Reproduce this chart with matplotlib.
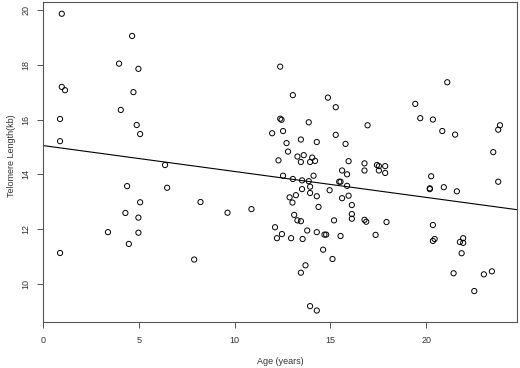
import matplotlib
matplotlib.use('Agg')
import matplotlib.pyplot as plt
import numpy as np

plt.rcParams['font.family'] = ['Liberation Sans', 'DejaVu Sans']

# age (years) and telomere length (kb)
age = [0.98, 0.98, 1.15, 0.89, 0.89, 4.65, 3.97, 4.98, 4.72, 4.06, 4.89, 5.07, 6.37,
       4.39, 6.48, 5.07, 8.22, 10.88, 9.63, 4.30, 4.98, 3.39, 4.98, 4.48, 0.89, 7.89,
       12.38, 21.10, 13.04, 14.87, 15.28, 19.43, 12.38, 12.45, 19.69, 20.35, 13.87,
       16.94, 23.85, 23.76, 20.84, 11.96, 12.53, 21.51, 15.28, 13.46, 12.71, 14.29,
       15.79, 12.79, 23.50, 12.29, 13.28, 13.61, 14.05, 14.20, 13.94, 13.46, 15.95,
       16.78, 17.43, 17.53, 17.86, 16.78, 17.53, 17.86, 15.61, 15.87, 14.12, 12.53,
       13.04, 13.52, 13.87, 20.26, 23.76, 15.46, 15.53,
       13.52, 13.94, 13.94, 14.96, 15.87, 20.19, 20.19, 20.92, 21.60, 12.87, 13.20,
       14.29, 15.61, 15.95, 13.02, 14.38, 16.12, 16.12, 16.12, 13.11, 13.28, 13.46,
       15.19, 16.78, 16.87, 17.93, 20.35, 12.11, 13.79, 14.29, 14.69, 14.78, 12.47,
       12.21, 12.95, 13.55, 15.53, 17.36, 20.44, 20.35, 21.93, 21.76, 21.93, 21.85,
       14.62, 15.11, 13.70, 13.46, 21.43, 23.01, 23.43, 22.51, 13.94, 14.29]
telomere = [19.86, 17.19, 17.07, 16.02, 15.21, 19.05, 18.04, 17.85, 17.00, 16.35, 15.80, 15.47, 14.34,
            13.57, 13.51, 12.98, 12.99, 12.73, 12.60, 12.59, 12.42, 11.89, 11.87, 11.46, 11.13, 10.89,
            17.93, 17.36, 16.89, 16.80, 16.45, 16.57, 16.03, 15.99, 16.05, 16.00, 15.90,
            15.79, 15.79, 15.63, 15.58, 15.50, 15.58, 15.45, 15.44, 15.27, 15.14, 15.18,
            15.11, 14.83, 14.81, 14.51, 14.65, 14.70, 14.61, 14.49, 14.45, 14.45, 14.48,
            14.40, 14.34, 14.30, 14.30, 14.14, 14.14, 14.05, 14.14, 14.00, 13.95, 13.95,
            13.83, 13.78, 13.75, 13.93, 13.73, 13.73, 13.73,
            13.46, 13.55, 13.32, 13.42, 13.58, 13.49, 13.46, 13.53, 13.38, 13.16, 13.24,
            13.20, 13.13, 13.22, 12.97, 12.81, 12.88, 12.55, 12.38, 12.52, 12.32, 12.29,
            12.32, 12.34, 12.27, 12.26, 12.15, 12.07, 11.95, 11.89, 11.80, 11.80, 11.82,
            11.67, 11.67, 11.64, 11.75, 11.79, 11.64, 11.57, 11.67, 11.53, 11.50, 11.12,
            11.25, 10.91, 10.68, 10.41, 10.39, 10.35, 10.46, 9.74, 9.19, 9.03]

# fitted line end points (intercept and slope)
fit_x = [0, 24.74]
fit_y = [15.05, 12.71]

W, H = 520, 368
left, right, bottom, top = 43, 517, 322.3, 1.7

fig = plt.figure(figsize=(W / 100, H / 100), dpi=100)
ax = fig.add_axes([left / W, 1 - bottom / H, (right - left) / W, (bottom - top) / H])

ax.scatter(age, telomere, s=14, facecolors='none', edgecolors='black', linewidths=0.7)
ax.plot(fit_x, fit_y, color='black', linewidth=0.8)

ax.set_xlim(0, 24.74)
ax.set_ylim(8.6, 20.3)
ax.set_xticks([0, 5, 10, 15, 20])
ax.set_yticks([10, 12, 14, 16, 18, 20])

for s in ax.spines.values():
    s.set_color('#555555')
    s.set_linewidth(0.8)
ax.tick_params(direction='out', length=4, width=0.7, colors='#555555',
               labelcolor='#333333', labelsize=6.5)
ax.tick_params(axis='x', pad=6)
ax.tick_params(axis='y', pad=5)
for lab in ax.get_yticklabels():
    lab.set_rotation(90)
    lab.set_va('center')

ax.set_xlabel('Age (years)', fontsize=6.5, color='#333333', va='center')
ax.set_ylabel('Telomere Length(kb)', fontsize=6.5, color='#333333', va='center')
# label centres in pixels, converted to axes fractions
ax.xaxis.set_label_coords((280 - left) / (right - left), (bottom - 361.5) / (bottom - top))
ax.yaxis.set_label_coords((11.5 - left) / (right - left), (bottom - 156) / (bottom - top))

fig.savefig('out.png', dpi=100)
